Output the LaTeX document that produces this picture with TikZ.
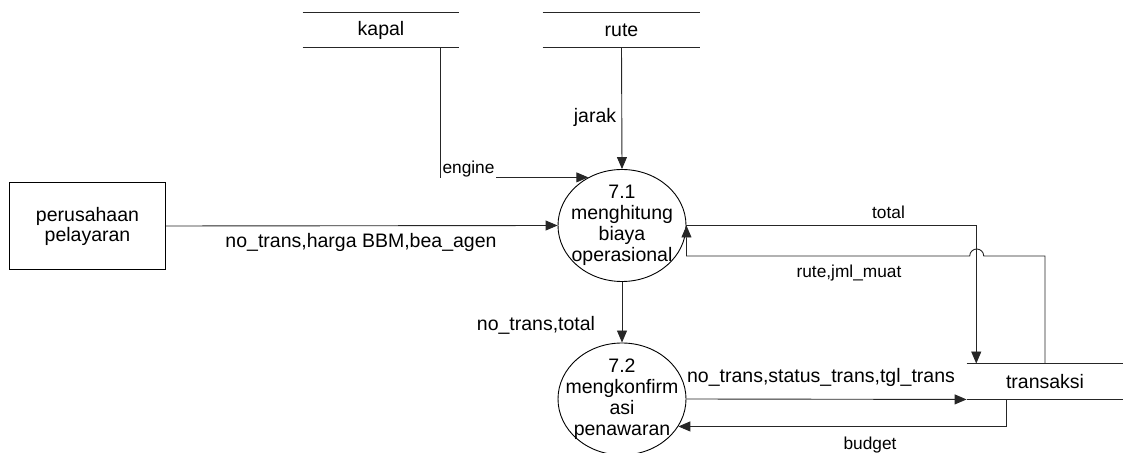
\documentclass[tikz,border=0pt]{standalone}
\usepackage{fontspec}
\setmainfont{Liberation Sans}
\usetikzlibrary{arrows.meta,shapes.geometric}
\begin{document}
\begin{tikzpicture}[x=1pt,y=1pt,
  line width=0.9pt,
  flow/.style={draw=black!85,-{Triangle[length=12pt,width=10pt]}},
  plain/.style={draw=black!85},
  big/.style={font=\fontsize{19.5}{21}\selectfont},
  small/.style={font=\fontsize{17.3}{19}\selectfont},
  store/.style={big,minimum height=35pt,inner sep=0pt},
  proc/.style={draw,ellipse,minimum width=128pt,minimum height=112pt,inner sep=0pt},
  proctext/.style={big,align=center,inner sep=0pt},
  lbl/.style={inner sep=0pt}]
\useasboundingbox (0,0) rectangle (1123,452);

% data stores
\node[store,minimum width=156pt] (kapal) at (381,422) {kapal};
\draw[plain] (kapal.north west) -- (kapal.north east) (kapal.south west) -- (kapal.south east);
\node[store,minimum width=157pt] (rute) at (621.5,422) {rute};
\draw[plain] (rute.north west) -- (rute.north east) (rute.south west) -- (rute.south east);
\node[store,minimum width=156pt] (transaksi) at (1045,70.5) {transaksi};
\draw[plain] (transaksi.north west) -- (transaksi.north east) (transaksi.south west) -- (transaksi.south east);

% external entity
\node[draw,big,align=center,minimum width=156pt,minimum height=87pt,inner sep=0pt,
  font=\fontsize{19.5}{20}\selectfont] (p) at (87.5,226) {perusahaan\\pelayaran};

% processes
\node[proc] (c71) at (622,226.5) {};
\node[proctext] (c71t) at (622,227) {7.1\\menghitung\\biaya\\operasional};
\node[proc] (c72) at (622,53) {};
\node[proctext] (c72t) at (622,52.5) {7.2\\mengkonfirm\\asi\\penawaran};

% flows
\draw[flow] (p.east) -- (c71.west);
\node[lbl,big] (l1) at (361,210) {no\_trans,harga BBM,bea\_agen};

\draw[flow] (rute.south) -- (c71.north);
\node[lbl,big] (l2) at (595,335) {jarak};

\draw[flow] ([xshift=59pt]kapal.south) |- (c71.125.6);
\node[lbl,small,fill=white,inner xsep=1.5pt,minimum height=24pt] (l3) at (468.5,283) {engine};

\draw[flow] (c71.south) -- (c72.north);
\node[lbl,big] (l4) at (536,127) {no\_trans,total};

\draw[flow] (c71.east) -| ([xshift=9.7pt]transaksi.north west);
\node[lbl,small] (l5) at (888.5,240) {total};

\coordinate (hop) at (976.7,196);
\draw[flow] (transaksi.north) |- ([xshift=7pt]hop) arc[start angle=0,end angle=180,radius=7pt] -| (c71.east);
\node[lbl,small] (l6) at (849,179) {rute,jml\_muat};

\draw[flow] (c72.east) -- (transaksi.south west);
\node[lbl,big] (l7) at (821,75) {no\_trans,status\_trans,tgl\_trans};

\draw[flow] ([xshift=-39pt]transaksi.south) |- (c72.-26.7);
\node[lbl,small] (l8) at (870,7) {budget};
\end{tikzpicture}
\end{document}
